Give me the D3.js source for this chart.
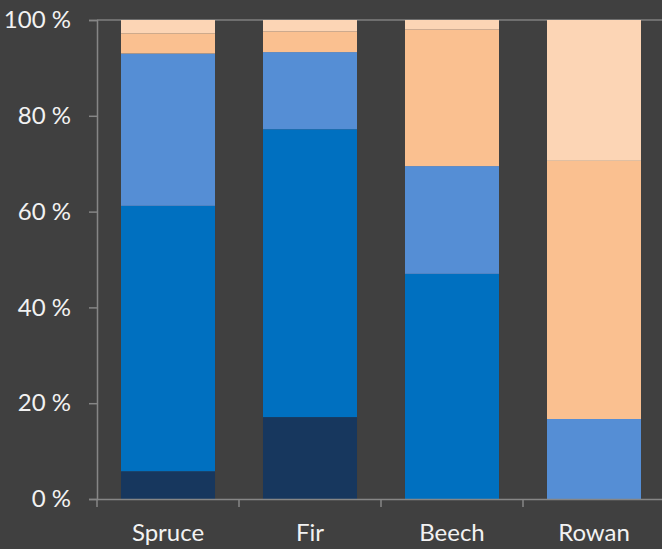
<!DOCTYPE html>
<html>
<head>
<meta charset="utf-8">
<script src="https://cdn.jsdelivr.net/npm/d3@7"></script>
<style>
html,body{margin:0;padding:0;background:#404040;}
svg{display:block;}
</style>
</head>
<body>
<svg id="chart" width="662" height="549"></svg>
<script>
const categories = ["Spruce", "Fir", "Beech", "Rowan"];
const seriesNames = ["s1", "s2", "s3", "s4", "s5"];
const s1 = [5.8, 17.1, 0, 0];
const s2 = [55.4, 60.1, 47.0, 0];
const s3 = [31.8, 16.1, 22.5, 16.7];
const s4 = [4.2, 4.3, 28.5, 53.9];
const s5 = [2.8, 2.4, 2.0, 29.4];
const colors = ["#17375E", "#0070C0", "#558ED5", "#FAC090", "#FCD5B5"];
const yTicks = [0, 20, 40, 60, 80, 100];

const seriesValues = [s1, s2, s3, s4, s5];
const rows = categories.map((c, i) => {
  const r = {cat: c};
  seriesNames.forEach((s, k) => r[s] = seriesValues[k][i]);
  return r;
});

const svg = d3.select("#chart");
const mLeft = 97, mRight = 665, mTop = 20, mBottom = 499;

const x = d3.scaleBand().domain(categories).range([mLeft, mRight])
  .paddingInner(0.338).paddingOuter(0.169);
const y = d3.scaleLinear().domain([0, 100]).range([mBottom, mTop]);
const color = d3.scaleOrdinal().domain(seriesNames).range(colors);

const stacked = d3.stack().keys(seriesNames)(rows);

// top border line
svg.append("line")
  .attr("x1", mLeft).attr("x2", 662).attr("y1", y(100)).attr("y2", y(100))
  .attr("stroke", "#7f7f7f").attr("stroke-width", 1.5);

svg.append("g").selectAll("g").data(stacked).join("g")
  .attr("fill", d => color(d.key))
  .selectAll("rect").data(d => d).join("rect")
  .attr("x", d => x(d.data.cat))
  .attr("width", x.bandwidth())
  .attr("y", d => y(d[1]))
  .attr("height", d => y(d[0]) - y(d[1]));

const font = "Lato, 'Open Sans', sans-serif";

// y axis
const yAxis = svg.append("g").attr("transform", `translate(${mLeft},0)`)
  .call(d3.axisLeft(y).tickValues(yTicks).tickFormat(d => d + " %").tickSize(8).tickPadding(18));
yAxis.select(".domain").attr("stroke", "#868686").attr("stroke-width", 1.5);
yAxis.selectAll(".tick line").attr("stroke", "#868686").attr("stroke-width", 1.5);
yAxis.selectAll("text").attr("fill", "#F2F2F2").style("font-family", font).style("font-size", "24px");

// x axis
const xAxis = svg.append("g").attr("transform", `translate(0,${mBottom})`)
  .call(d3.axisBottom(x).tickSize(0).tickPadding(25));
xAxis.select(".domain").attr("stroke", "#868686").attr("stroke-width", 1.5);
xAxis.selectAll("text").attr("fill", "#F2F2F2").style("font-family", font).style("font-size", "24px");
// tick marks at category boundaries
const edges = categories.map(c => x(c) - x.step() * x.paddingInner() / 2);
xAxis.selectAll(".edge").data(edges).join("line")
  .attr("class", "edge")
  .attr("x1", d => d).attr("x2", d => d)
  .attr("y1", 0).attr("y2", 8)
  .attr("stroke", "#868686").attr("stroke-width", 1.5);
</script>
</body>
</html>
